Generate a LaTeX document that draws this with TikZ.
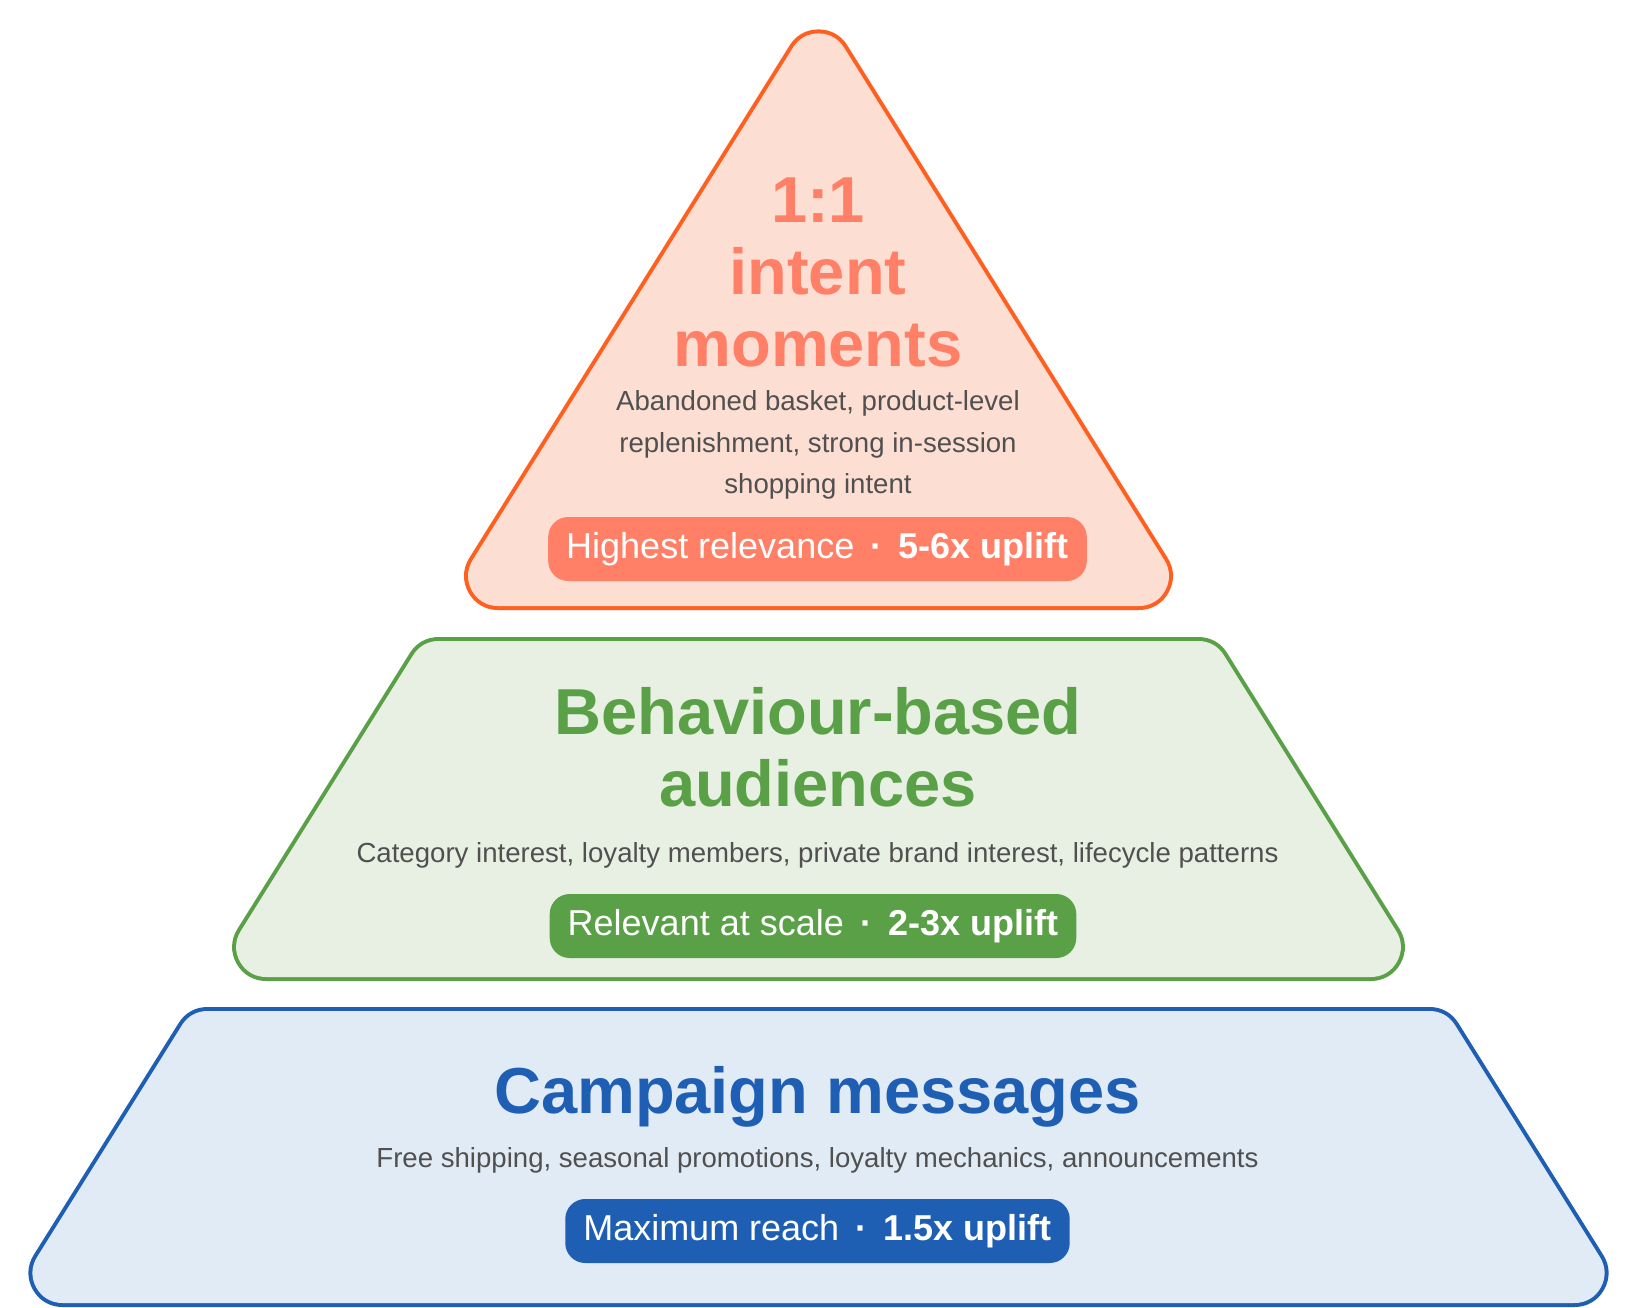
\documentclass[tikz,border=0pt]{standalone}
\usepackage{fontspec}
\setmainfont{Liberation Sans}
\definecolor{orangeline}{HTML}{FF5F1F}
\definecolor{peachfill}{HTML}{FDDED3}
\definecolor{salmon}{HTML}{FF7F67}
\definecolor{greenline}{HTML}{5AA046}
\definecolor{greenfill}{HTML}{E8F0E4}
\definecolor{blueline}{HTML}{1F5FB3}
\definecolor{bluefill}{HTML}{E1EBF6}
\definecolor{descgray}{HTML}{505050}
\begin{document}
\begin{tikzpicture}[x=0.5pt,y=-0.5pt,
  band/.style 2 args={fill=#2,draw=#2,line width=30pt,line join=round,preaction={draw=#1,line width=34pt,line join=round}},
  title/.style={font=\bfseries\fontsize{32.5}{36}\selectfont,align=center,inner sep=0pt},
  desc/.style={text=descgray,font=\fontsize{13.8}{20.75}\selectfont,align=center,inner sep=0pt},
  pill/.style={fill=#1,rounded corners=10pt,minimum height=32pt,inner xsep=9pt,inner ysep=0pt,text=white,font=\fontsize{18}{20}\selectfont}]
\useasboundingbox (0,0) rectangle (1635,1308);

\path[band={orangeline}{peachfill}] (818.5,63.4) -- (1138.9,576) -- (498.1,576) -- cycle;
\path[band={greenline}{greenfill}] (438.7,671) -- (1198.3,671) -- (1370.8,947) -- (266.2,947) -- cycle;
\path[band={blueline}{bluefill}] (207.5,1041) -- (1429.5,1041) -- (1574.5,1273) -- (62.5,1273) -- cycle;

\node[title,text=salmon] (tiptitle) at (818,272) {1:1\\intent\\moments};
\node[desc] (tipdesc) at (818,445) {Abandoned basket, product-level\\replenishment, strong in-session\\shopping intent};
\node[pill=salmon] (tippill) at (817.5,549) {Highest relevance\hspace{0.45em}\textbf{·}\hspace{0.45em}\textbf{5-6x uplift}};

\node[title,text=greenline] (midtitle) at (818,747) {Behaviour-based\\audiences};
\node[desc,anchor=base] (middesc) at (817.5,862) {Category interest, loyalty members, private brand interest, lifecycle patterns};
\node[pill=greenline] (midpill) at (813,926) {Relevant at scale\hspace{0.45em}\textbf{·}\hspace{0.45em}\textbf{2-3x uplift}};

\node[title,text=blueline,anchor=base] (basetitle) at (817.5,1113.6) {Campaign messages};
\node[desc,anchor=base] (basedesc) at (817.5,1167.5) {Free shipping, seasonal promotions, loyalty mechanics, announcements};
\node[pill=blueline] (basepill) at (817.5,1231) {Maximum reach\hspace{0.45em}\textbf{·}\hspace{0.45em}\textbf{1.5x uplift}};
\end{tikzpicture}
\end{document}
